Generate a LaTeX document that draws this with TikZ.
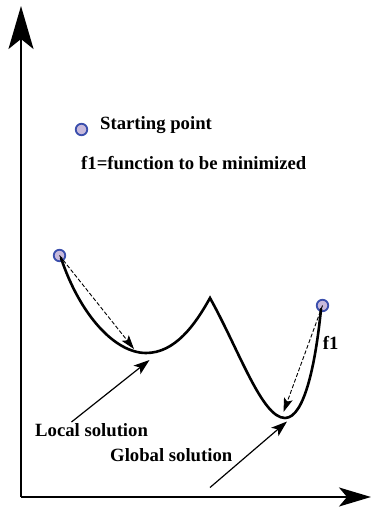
\documentclass[tikz,border=0pt]{standalone}
\usepackage{fontspec}
\setmainfont{Liberation Serif}
\usetikzlibrary{arrows.meta}
\definecolor{dotfill}{RGB}{200,186,220}
\definecolor{dotdraw}{RGB}{58,78,172}
\tikzset{
  dot/.style={circle,draw=dotdraw,fill=dotfill,line width=1.8pt,minimum size=11.5pt,inner sep=0pt},
  lbl/.style={anchor=base west,inner sep=0pt,font=\fontsize{18.7}{22}\selectfont\bfseries},
  axis/.style={line width=2.2pt},
  curveline/.style={line width=2.6pt,line cap=round,line join=miter},
  dasharrow/.style={line width=0.9pt,dash pattern=on 4pt off 2pt,-{Stealth[length=14pt,width=9pt,inset=3pt]}},
  pointer/.style={line width=1.2pt,-{Stealth[length=16pt,width=11pt,inset=4pt]}}
}
\begin{document}
\begin{tikzpicture}[x=1pt,y=-1pt]
\useasboundingbox (0,0) rectangle (370,510);
% axes
\coordinate (origin) at (21,497);
\coordinate (ytop) at (21,6);
\coordinate (xend) at (371,497);
\draw[axis,-{Stealth[length=43pt,width=25pt,inset=10pt]}] (origin) -- (ytop);
\draw[axis,-{Stealth[length=32pt,width=19pt,inset=8pt]}] (origin) -- (xend);
% legend
\node[dot] (legdot) at (81.5,129.5) {};
\node[lbl] (startlbl) at (100,129.3) {Starting point};
\node[lbl] (funlbl) at (81,169.3) {f1=function to be minimized};
% points
\node[dot] (p1) at (59.5,255.5) {};
\node[dot] (p2) at (322.5,305.5) {};
% curve key points
\coordinate (c0) at (61,258);
\coordinate (m1) at (146,353);
\coordinate (pk) at (210,298);
\coordinate (m2) at (285,418);
\coordinate (c4) at (321,309);
\draw[curveline] (c0) .. controls (80,315) and (115,353) .. (m1)
  .. controls (175,353) and (195,325) .. (pk)
  .. controls (239,350) and (262,418) .. (m2)
  .. controls (305,418) and (316,360) .. (c4);
% dashed descent arrows
\coordinate (t1) at (134,349);
\coordinate (t2) at (283.5,412);
\draw[dasharrow] (p1.center) -- (t1);
\draw[dasharrow] (p2.center) -- (t2);
% labels and pointers
\node[lbl] (loclbl) at (35,436.7) {Local solution};
\node[lbl] (glolbl) at (110,461.7) {Global solution};
\node[lbl] (f1lbl) at (322.7,349.3) {f1};
\coordinate (lsTail) at (71.5,422);
\coordinate (lsTip) at (149.5,360);
\coordinate (gsTail) at (210,487.5);
\coordinate (gsTip) at (287,421.5);
\draw[pointer] (lsTail) -- (lsTip);
\draw[pointer] (gsTail) -- (gsTip);
\end{tikzpicture}
\end{document}
